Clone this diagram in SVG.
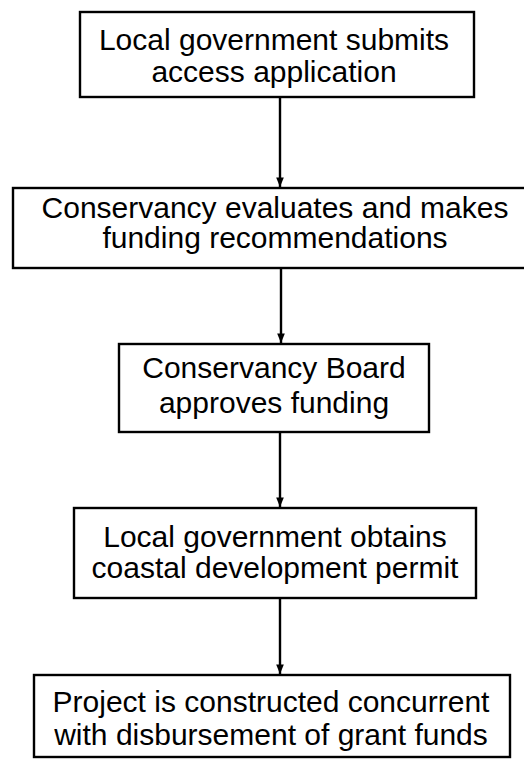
<svg xmlns="http://www.w3.org/2000/svg" width="524" height="760" viewBox="0 0 524 760">
  <style>
    .box { fill: #ffffff; stroke: #000000; stroke-width: 2.4; }
    .label { font-family: "Liberation Sans", Arial, Helvetica, sans-serif; font-size: 30px; fill: #000000; text-anchor: middle; }
    .link { stroke: #000000; stroke-width: 2.4; fill: none; }
  </style>
  <defs>
    <marker id="arrow" viewBox="0 0 10 10" refX="10" refY="5" markerWidth="4" markerHeight="4" orient="auto" markerUnits="strokeWidth">
      <path d="M0,1 L10,5 L0,9 z" fill="#000000"/>
    </marker>
  </defs>
  <rect width="524" height="760" fill="#ffffff"/>

  <!-- vertical flow arrows between the steps -->
  <g id="connectors">
    <line class="link" x1="280" y1="97" x2="280" y2="187" marker-end="url(#arrow)"/>
    <line class="link" x1="281" y1="268" x2="281" y2="343" marker-end="url(#arrow)"/>
    <line class="link" x1="280" y1="432" x2="280" y2="507" marker-end="url(#arrow)"/>
    <line class="link" x1="280" y1="598" x2="280" y2="674" marker-end="url(#arrow)"/>
  </g>

  <g id="step1">
    <rect class="box" x="80" y="12" width="394" height="85"/>
    <text class="label" x="274" y="50">Local government submits</text>
    <text class="label" x="274" y="82">access application</text>
  </g>

  <g id="step2">
    <rect class="box" x="13" y="188" width="525" height="80"/>
    <text class="label" x="275" y="218">Conservancy evaluates and makes</text>
    <text class="label" x="275" y="248">funding recommendations</text>
  </g>

  <g id="step3">
    <rect class="box" x="119" y="344" width="310" height="88"/>
    <text class="label" x="274" y="378">Conservancy Board</text>
    <text class="label" x="274" y="413">approves funding</text>
  </g>

  <g id="step4">
    <rect class="box" x="74" y="508" width="402" height="90"/>
    <text class="label" x="275" y="547">Local government obtains</text>
    <text class="label" x="275" y="578">coastal development permit</text>
  </g>

  <g id="step5">
    <rect class="box" x="34" y="675" width="476" height="82"/>
    <text class="label" x="271" y="712">Project is constructed concurrent</text>
    <text class="label" x="271" y="745">with disbursement of grant funds</text>
  </g>
</svg>
